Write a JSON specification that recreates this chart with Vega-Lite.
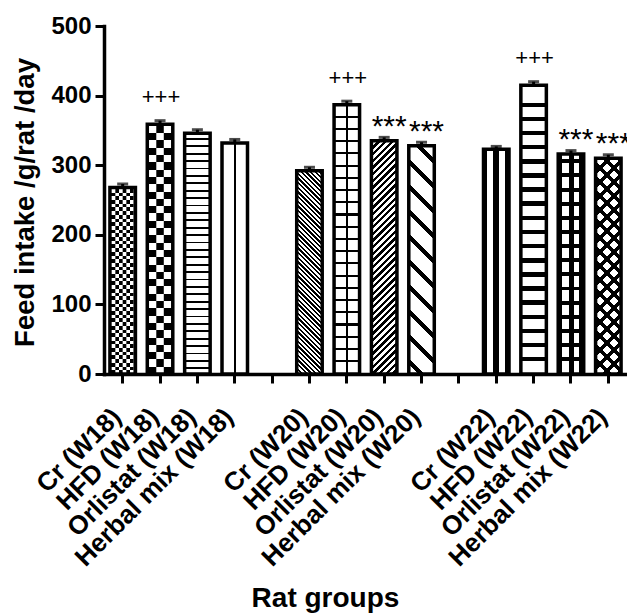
{
"$schema": "https://vega.github.io/schema/vega-lite/v6.json",
"width": 523,
"height": 348,
"autosize": {"type": "none"},
"padding": {"left": 104, "top": 26, "right": 0, "bottom": 241},
"background": "white",
"config": {"view": {"stroke": null}, "font": "Liberation Sans"},
"data": {"values": [
{"group": "Cr (W18)", "value": 268, "err": 5, "sig": ""},
{"group": "HFD (W18)", "value": 359, "err": 5, "sig": "+++"},
{"group": "Orlistat (W18)", "value": 346, "err": 5, "sig": ""},
{"group": "Herbal mix (W18)", "value": 332, "err": 5, "sig": ""},
{"group": "Cr (W20)", "value": 292, "err": 5, "sig": ""},
{"group": "HFD (W20)", "value": 387, "err": 5, "sig": "+++"},
{"group": "Orlistat (W20)", "value": 335, "err": 5, "sig": "***"},
{"group": "Herbal mix (W20)", "value": 328, "err": 5, "sig": "***"},
{"group": "Cr (W22)", "value": 323, "err": 4, "sig": ""},
{"group": "HFD (W22)", "value": 415, "err": 5, "sig": "+++"},
{"group": "Orlistat (W22)", "value": 316, "err": 5, "sig": "***"},
{"group": "Herbal mix (W22)", "value": 310, "err": 5, "sig": "***"}
]},
"encoding": {
"x": {"field": "group", "type": "nominal", "sort": null,
 "scale": {"domain": ["Cr (W18)", "HFD (W18)", "Orlistat (W18)", "Herbal mix (W18)", " ", "Cr (W20)", "HFD (W20)", "Orlistat (W20)", "Herbal mix (W20)", "  ", "Cr (W22)", "HFD (W22)", "Orlistat (W22)", "Herbal mix (W22)"], "paddingInner": 0, "paddingOuter": 0},
 "axis": {"title": "Rat groups", "titleFont": "Liberation Sans", "titleFontSize": 28, "titleFontWeight": "bold", "titleColor": "#000", "titleX": 221, "titleY": 232, "titleAlign": "center", "titleBaseline": "alphabetic",
  "labelAngle": -45, "labelAlign": "right", "labelBaseline": "alphabetic", "labelFont": "Liberation Sans", "labelFontSize": 26, "labelFontWeight": "bold", "labelColor": "#000", "labelPadding": 35, "labelOverlap": false, "labelLimit": 500,
  "domainColor": "#000", "domainWidth": 3.5, "domainCap": "square", "tickColor": "#000", "tickWidth": 3, "tickSize": 9, "grid": false}},
"y": {"field": "value", "type": "quantitative",
 "scale": {"domain": [0, 500], "nice": false},
 "axis": {"values": [0, 100, 200, 300, 400, 500], "title": "Feed intake /g/rat /day", "titleFont": "Liberation Sans", "titleFontSize": 27.5, "titleFontWeight": "bold", "titleColor": "#000", "titleX": -71, "titleY": 176, "titleAlign": "center", "titleBaseline": "alphabetic", "titleAngle": 270,
  "labelFont": "Liberation Sans", "labelFontSize": 24, "labelFontWeight": "bold", "labelColor": "#000", "labelPadding": 4,
  "domainColor": "#000", "domainWidth": 3.5, "domainCap": "square", "tickColor": "#000", "tickWidth": 3, "tickSize": 9, "grid": false}}
},
"layer": [
{"mark": {"type": "errorbar", "ticks": true, "size": 11, "thickness": 3, "color": "#000"}, "encoding": {"yError": {"field": "err"}}},
{"transform": [{"filter": "datum.group === 'Cr (W18)'"}], "mark": {"type": "bar", "size": 25.5, "fill": {"gradient": "linear", "x1": 0, "y1": 1, "x2": 0, "y2": -0.984, "stops": [
{"offset":0,"color":"#000"},{"offset":0.01,"color":"#000"},{"offset":0.01,"color":"#fff"},{"offset":0.02,"color":"#fff"},
{"offset":0.02,"color":"#000"},{"offset":0.03,"color":"#000"},{"offset":0.03,"color":"#fff"},{"offset":0.04,"color":"#fff"},
{"offset":0.04,"color":"#000"},{"offset":0.05,"color":"#000"},{"offset":0.05,"color":"#fff"},{"offset":0.06,"color":"#fff"},
{"offset":0.06,"color":"#000"},{"offset":0.07,"color":"#000"},{"offset":0.07,"color":"#fff"},{"offset":0.08,"color":"#fff"},
{"offset":0.08,"color":"#000"},{"offset":0.09,"color":"#000"},{"offset":0.09,"color":"#fff"},{"offset":0.1,"color":"#fff"},
{"offset":0.1,"color":"#000"},{"offset":0.11,"color":"#000"},{"offset":0.11,"color":"#fff"},{"offset":0.12,"color":"#fff"},
{"offset":0.12,"color":"#000"},{"offset":0.13,"color":"#000"},{"offset":0.13,"color":"#fff"},{"offset":0.14,"color":"#fff"},
{"offset":0.14,"color":"#000"},{"offset":0.15,"color":"#000"},{"offset":0.15,"color":"#fff"},{"offset":0.16,"color":"#fff"},
{"offset":0.16,"color":"#000"},{"offset":0.17,"color":"#000"},{"offset":0.17,"color":"#fff"},{"offset":0.18,"color":"#fff"},
{"offset":0.18,"color":"#000"},{"offset":0.19,"color":"#000"},{"offset":0.19,"color":"#fff"},{"offset":0.2,"color":"#fff"},
{"offset":0.2,"color":"#000"},{"offset":0.21,"color":"#000"},{"offset":0.21,"color":"#fff"},{"offset":0.22,"color":"#fff"},
{"offset":0.22,"color":"#000"},{"offset":0.23,"color":"#000"},{"offset":0.23,"color":"#fff"},{"offset":0.24,"color":"#fff"},
{"offset":0.24,"color":"#000"},{"offset":0.25,"color":"#000"},{"offset":0.25,"color":"#fff"},{"offset":0.26,"color":"#fff"},
{"offset":0.26,"color":"#000"},{"offset":0.27,"color":"#000"},{"offset":0.27,"color":"#fff"},{"offset":0.28,"color":"#fff"},
{"offset":0.28,"color":"#000"},{"offset":0.29,"color":"#000"},{"offset":0.29,"color":"#fff"},{"offset":0.3,"color":"#fff"},
{"offset":0.3,"color":"#000"},{"offset":0.31,"color":"#000"},{"offset":0.31,"color":"#fff"},{"offset":0.32,"color":"#fff"},
{"offset":0.32,"color":"#000"},{"offset":0.33,"color":"#000"},{"offset":0.33,"color":"#fff"},{"offset":0.34,"color":"#fff"},
{"offset":0.34,"color":"#000"},{"offset":0.35,"color":"#000"},{"offset":0.35,"color":"#fff"},{"offset":0.36,"color":"#fff"},
{"offset":0.36,"color":"#000"},{"offset":0.37,"color":"#000"},{"offset":0.37,"color":"#fff"},{"offset":0.38,"color":"#fff"},
{"offset":0.38,"color":"#000"},{"offset":0.39,"color":"#000"},{"offset":0.39,"color":"#fff"},{"offset":0.4,"color":"#fff"},
{"offset":0.4,"color":"#000"},{"offset":0.41,"color":"#000"},{"offset":0.41,"color":"#fff"},{"offset":0.42,"color":"#fff"},
{"offset":0.42,"color":"#000"},{"offset":0.43,"color":"#000"},{"offset":0.43,"color":"#fff"},{"offset":0.44,"color":"#fff"},
{"offset":0.44,"color":"#000"},{"offset":0.45,"color":"#000"},{"offset":0.45,"color":"#fff"},{"offset":0.46,"color":"#fff"},
{"offset":0.46,"color":"#000"},{"offset":0.47,"color":"#000"},{"offset":0.47,"color":"#fff"},{"offset":0.48,"color":"#fff"},
{"offset":0.48,"color":"#000"},{"offset":0.49,"color":"#000"},{"offset":0.49,"color":"#fff"},{"offset":0.5,"color":"#fff"},
{"offset":0.5,"color":"#000"},{"offset":0.51,"color":"#000"},{"offset":0.51,"color":"#fff"},{"offset":0.52,"color":"#fff"},
{"offset":0.52,"color":"#000"},{"offset":0.53,"color":"#000"},{"offset":0.53,"color":"#fff"},{"offset":1,"color":"#fff"}]}}},
{"transform": [{"filter": "datum.group === 'Cr (W18)'"}], "mark": {"type": "bar", "size": 3.67, "xOffset": -5.5, "fill": {"gradient": "linear", "x1": 0, "y1": 1.0198, "x2": 0, "y2": -0.9642, "stops": [
{"offset":0,"color":"#000"},{"offset":0.01,"color":"#000"},{"offset":0.01,"color":"#fff"},{"offset":0.02,"color":"#fff"},
{"offset":0.02,"color":"#000"},{"offset":0.03,"color":"#000"},{"offset":0.03,"color":"#fff"},{"offset":0.04,"color":"#fff"},
{"offset":0.04,"color":"#000"},{"offset":0.05,"color":"#000"},{"offset":0.05,"color":"#fff"},{"offset":0.06,"color":"#fff"},
{"offset":0.06,"color":"#000"},{"offset":0.07,"color":"#000"},{"offset":0.07,"color":"#fff"},{"offset":0.08,"color":"#fff"},
{"offset":0.08,"color":"#000"},{"offset":0.09,"color":"#000"},{"offset":0.09,"color":"#fff"},{"offset":0.1,"color":"#fff"},
{"offset":0.1,"color":"#000"},{"offset":0.11,"color":"#000"},{"offset":0.11,"color":"#fff"},{"offset":0.12,"color":"#fff"},
{"offset":0.12,"color":"#000"},{"offset":0.13,"color":"#000"},{"offset":0.13,"color":"#fff"},{"offset":0.14,"color":"#fff"},
{"offset":0.14,"color":"#000"},{"offset":0.15,"color":"#000"},{"offset":0.15,"color":"#fff"},{"offset":0.16,"color":"#fff"},
{"offset":0.16,"color":"#000"},{"offset":0.17,"color":"#000"},{"offset":0.17,"color":"#fff"},{"offset":0.18,"color":"#fff"},
{"offset":0.18,"color":"#000"},{"offset":0.19,"color":"#000"},{"offset":0.19,"color":"#fff"},{"offset":0.2,"color":"#fff"},
{"offset":0.2,"color":"#000"},{"offset":0.21,"color":"#000"},{"offset":0.21,"color":"#fff"},{"offset":0.22,"color":"#fff"},
{"offset":0.22,"color":"#000"},{"offset":0.23,"color":"#000"},{"offset":0.23,"color":"#fff"},{"offset":0.24,"color":"#fff"},
{"offset":0.24,"color":"#000"},{"offset":0.25,"color":"#000"},{"offset":0.25,"color":"#fff"},{"offset":0.26,"color":"#fff"},
{"offset":0.26,"color":"#000"},{"offset":0.27,"color":"#000"},{"offset":0.27,"color":"#fff"},{"offset":0.28,"color":"#fff"},
{"offset":0.28,"color":"#000"},{"offset":0.29,"color":"#000"},{"offset":0.29,"color":"#fff"},{"offset":0.3,"color":"#fff"},
{"offset":0.3,"color":"#000"},{"offset":0.31,"color":"#000"},{"offset":0.31,"color":"#fff"},{"offset":0.32,"color":"#fff"},
{"offset":0.32,"color":"#000"},{"offset":0.33,"color":"#000"},{"offset":0.33,"color":"#fff"},{"offset":0.34,"color":"#fff"},
{"offset":0.34,"color":"#000"},{"offset":0.35,"color":"#000"},{"offset":0.35,"color":"#fff"},{"offset":0.36,"color":"#fff"},
{"offset":0.36,"color":"#000"},{"offset":0.37,"color":"#000"},{"offset":0.37,"color":"#fff"},{"offset":0.38,"color":"#fff"},
{"offset":0.38,"color":"#000"},{"offset":0.39,"color":"#000"},{"offset":0.39,"color":"#fff"},{"offset":0.4,"color":"#fff"},
{"offset":0.4,"color":"#000"},{"offset":0.41,"color":"#000"},{"offset":0.41,"color":"#fff"},{"offset":0.42,"color":"#fff"},
{"offset":0.42,"color":"#000"},{"offset":0.43,"color":"#000"},{"offset":0.43,"color":"#fff"},{"offset":0.44,"color":"#fff"},
{"offset":0.44,"color":"#000"},{"offset":0.45,"color":"#000"},{"offset":0.45,"color":"#fff"},{"offset":0.46,"color":"#fff"},
{"offset":0.46,"color":"#000"},{"offset":0.47,"color":"#000"},{"offset":0.47,"color":"#fff"},{"offset":0.48,"color":"#fff"},
{"offset":0.48,"color":"#000"},{"offset":0.49,"color":"#000"},{"offset":0.49,"color":"#fff"},{"offset":0.5,"color":"#fff"},
{"offset":0.5,"color":"#000"},{"offset":0.51,"color":"#000"},{"offset":0.51,"color":"#fff"},{"offset":0.52,"color":"#fff"},
{"offset":0.52,"color":"#000"},{"offset":0.53,"color":"#000"},{"offset":0.53,"color":"#fff"},{"offset":1,"color":"#fff"}]}}},
{"transform": [{"filter": "datum.group === 'Cr (W18)'"}], "mark": {"type": "bar", "size": 3.67, "xOffset": 1.83, "fill": {"gradient": "linear", "x1": 0, "y1": 1.0198, "x2": 0, "y2": -0.9642, "stops": [
{"offset":0,"color":"#000"},{"offset":0.01,"color":"#000"},{"offset":0.01,"color":"#fff"},{"offset":0.02,"color":"#fff"},
{"offset":0.02,"color":"#000"},{"offset":0.03,"color":"#000"},{"offset":0.03,"color":"#fff"},{"offset":0.04,"color":"#fff"},
{"offset":0.04,"color":"#000"},{"offset":0.05,"color":"#000"},{"offset":0.05,"color":"#fff"},{"offset":0.06,"color":"#fff"},
{"offset":0.06,"color":"#000"},{"offset":0.07,"color":"#000"},{"offset":0.07,"color":"#fff"},{"offset":0.08,"color":"#fff"},
{"offset":0.08,"color":"#000"},{"offset":0.09,"color":"#000"},{"offset":0.09,"color":"#fff"},{"offset":0.1,"color":"#fff"},
{"offset":0.1,"color":"#000"},{"offset":0.11,"color":"#000"},{"offset":0.11,"color":"#fff"},{"offset":0.12,"color":"#fff"},
{"offset":0.12,"color":"#000"},{"offset":0.13,"color":"#000"},{"offset":0.13,"color":"#fff"},{"offset":0.14,"color":"#fff"},
{"offset":0.14,"color":"#000"},{"offset":0.15,"color":"#000"},{"offset":0.15,"color":"#fff"},{"offset":0.16,"color":"#fff"},
{"offset":0.16,"color":"#000"},{"offset":0.17,"color":"#000"},{"offset":0.17,"color":"#fff"},{"offset":0.18,"color":"#fff"},
{"offset":0.18,"color":"#000"},{"offset":0.19,"color":"#000"},{"offset":0.19,"color":"#fff"},{"offset":0.2,"color":"#fff"},
{"offset":0.2,"color":"#000"},{"offset":0.21,"color":"#000"},{"offset":0.21,"color":"#fff"},{"offset":0.22,"color":"#fff"},
{"offset":0.22,"color":"#000"},{"offset":0.23,"color":"#000"},{"offset":0.23,"color":"#fff"},{"offset":0.24,"color":"#fff"},
{"offset":0.24,"color":"#000"},{"offset":0.25,"color":"#000"},{"offset":0.25,"color":"#fff"},{"offset":0.26,"color":"#fff"},
{"offset":0.26,"color":"#000"},{"offset":0.27,"color":"#000"},{"offset":0.27,"color":"#fff"},{"offset":0.28,"color":"#fff"},
{"offset":0.28,"color":"#000"},{"offset":0.29,"color":"#000"},{"offset":0.29,"color":"#fff"},{"offset":0.3,"color":"#fff"},
{"offset":0.3,"color":"#000"},{"offset":0.31,"color":"#000"},{"offset":0.31,"color":"#fff"},{"offset":0.32,"color":"#fff"},
{"offset":0.32,"color":"#000"},{"offset":0.33,"color":"#000"},{"offset":0.33,"color":"#fff"},{"offset":0.34,"color":"#fff"},
{"offset":0.34,"color":"#000"},{"offset":0.35,"color":"#000"},{"offset":0.35,"color":"#fff"},{"offset":0.36,"color":"#fff"},
{"offset":0.36,"color":"#000"},{"offset":0.37,"color":"#000"},{"offset":0.37,"color":"#fff"},{"offset":0.38,"color":"#fff"},
{"offset":0.38,"color":"#000"},{"offset":0.39,"color":"#000"},{"offset":0.39,"color":"#fff"},{"offset":0.4,"color":"#fff"},
{"offset":0.4,"color":"#000"},{"offset":0.41,"color":"#000"},{"offset":0.41,"color":"#fff"},{"offset":0.42,"color":"#fff"},
{"offset":0.42,"color":"#000"},{"offset":0.43,"color":"#000"},{"offset":0.43,"color":"#fff"},{"offset":0.44,"color":"#fff"},
{"offset":0.44,"color":"#000"},{"offset":0.45,"color":"#000"},{"offset":0.45,"color":"#fff"},{"offset":0.46,"color":"#fff"},
{"offset":0.46,"color":"#000"},{"offset":0.47,"color":"#000"},{"offset":0.47,"color":"#fff"},{"offset":0.48,"color":"#fff"},
{"offset":0.48,"color":"#000"},{"offset":0.49,"color":"#000"},{"offset":0.49,"color":"#fff"},{"offset":0.5,"color":"#fff"},
{"offset":0.5,"color":"#000"},{"offset":0.51,"color":"#000"},{"offset":0.51,"color":"#fff"},{"offset":0.52,"color":"#fff"},
{"offset":0.52,"color":"#000"},{"offset":0.53,"color":"#000"},{"offset":0.53,"color":"#fff"},{"offset":1,"color":"#fff"}]}}},
{"transform": [{"filter": "datum.group === 'Cr (W18)'"}], "mark": {"type": "bar", "size": 3.67, "xOffset": 9.17, "fill": {"gradient": "linear", "x1": 0, "y1": 1.0198, "x2": 0, "y2": -0.9642, "stops": [
{"offset":0,"color":"#000"},{"offset":0.01,"color":"#000"},{"offset":0.01,"color":"#fff"},{"offset":0.02,"color":"#fff"},
{"offset":0.02,"color":"#000"},{"offset":0.03,"color":"#000"},{"offset":0.03,"color":"#fff"},{"offset":0.04,"color":"#fff"},
{"offset":0.04,"color":"#000"},{"offset":0.05,"color":"#000"},{"offset":0.05,"color":"#fff"},{"offset":0.06,"color":"#fff"},
{"offset":0.06,"color":"#000"},{"offset":0.07,"color":"#000"},{"offset":0.07,"color":"#fff"},{"offset":0.08,"color":"#fff"},
{"offset":0.08,"color":"#000"},{"offset":0.09,"color":"#000"},{"offset":0.09,"color":"#fff"},{"offset":0.1,"color":"#fff"},
{"offset":0.1,"color":"#000"},{"offset":0.11,"color":"#000"},{"offset":0.11,"color":"#fff"},{"offset":0.12,"color":"#fff"},
{"offset":0.12,"color":"#000"},{"offset":0.13,"color":"#000"},{"offset":0.13,"color":"#fff"},{"offset":0.14,"color":"#fff"},
{"offset":0.14,"color":"#000"},{"offset":0.15,"color":"#000"},{"offset":0.15,"color":"#fff"},{"offset":0.16,"color":"#fff"},
{"offset":0.16,"color":"#000"},{"offset":0.17,"color":"#000"},{"offset":0.17,"color":"#fff"},{"offset":0.18,"color":"#fff"},
{"offset":0.18,"color":"#000"},{"offset":0.19,"color":"#000"},{"offset":0.19,"color":"#fff"},{"offset":0.2,"color":"#fff"},
{"offset":0.2,"color":"#000"},{"offset":0.21,"color":"#000"},{"offset":0.21,"color":"#fff"},{"offset":0.22,"color":"#fff"},
{"offset":0.22,"color":"#000"},{"offset":0.23,"color":"#000"},{"offset":0.23,"color":"#fff"},{"offset":0.24,"color":"#fff"},
{"offset":0.24,"color":"#000"},{"offset":0.25,"color":"#000"},{"offset":0.25,"color":"#fff"},{"offset":0.26,"color":"#fff"},
{"offset":0.26,"color":"#000"},{"offset":0.27,"color":"#000"},{"offset":0.27,"color":"#fff"},{"offset":0.28,"color":"#fff"},
{"offset":0.28,"color":"#000"},{"offset":0.29,"color":"#000"},{"offset":0.29,"color":"#fff"},{"offset":0.3,"color":"#fff"},
{"offset":0.3,"color":"#000"},{"offset":0.31,"color":"#000"},{"offset":0.31,"color":"#fff"},{"offset":0.32,"color":"#fff"},
{"offset":0.32,"color":"#000"},{"offset":0.33,"color":"#000"},{"offset":0.33,"color":"#fff"},{"offset":0.34,"color":"#fff"},
{"offset":0.34,"color":"#000"},{"offset":0.35,"color":"#000"},{"offset":0.35,"color":"#fff"},{"offset":0.36,"color":"#fff"},
{"offset":0.36,"color":"#000"},{"offset":0.37,"color":"#000"},{"offset":0.37,"color":"#fff"},{"offset":0.38,"color":"#fff"},
{"offset":0.38,"color":"#000"},{"offset":0.39,"color":"#000"},{"offset":0.39,"color":"#fff"},{"offset":0.4,"color":"#fff"},
{"offset":0.4,"color":"#000"},{"offset":0.41,"color":"#000"},{"offset":0.41,"color":"#fff"},{"offset":0.42,"color":"#fff"},
{"offset":0.42,"color":"#000"},{"offset":0.43,"color":"#000"},{"offset":0.43,"color":"#fff"},{"offset":0.44,"color":"#fff"},
{"offset":0.44,"color":"#000"},{"offset":0.45,"color":"#000"},{"offset":0.45,"color":"#fff"},{"offset":0.46,"color":"#fff"},
{"offset":0.46,"color":"#000"},{"offset":0.47,"color":"#000"},{"offset":0.47,"color":"#fff"},{"offset":0.48,"color":"#fff"},
{"offset":0.48,"color":"#000"},{"offset":0.49,"color":"#000"},{"offset":0.49,"color":"#fff"},{"offset":0.5,"color":"#fff"},
{"offset":0.5,"color":"#000"},{"offset":0.51,"color":"#000"},{"offset":0.51,"color":"#fff"},{"offset":0.52,"color":"#fff"},
{"offset":0.52,"color":"#000"},{"offset":0.53,"color":"#000"},{"offset":0.53,"color":"#fff"},{"offset":1,"color":"#fff"}]}}},
{"transform": [{"filter": "datum.group === 'HFD (W18)'"}], "mark": {"type": "bar", "size": 25.5, "fill": {"gradient": "linear", "x1": 0, "y1": 1, "x2": 0, "y2": -0.1685, "stops": [
{"offset":0,"color":"#000"},{"offset":0.025,"color":"#000"},{"offset":0.025,"color":"#fff"},{"offset":0.05,"color":"#fff"},
{"offset":0.05,"color":"#000"},{"offset":0.075,"color":"#000"},{"offset":0.075,"color":"#fff"},{"offset":0.1,"color":"#fff"},
{"offset":0.1,"color":"#000"},{"offset":0.125,"color":"#000"},{"offset":0.125,"color":"#fff"},{"offset":0.15,"color":"#fff"},
{"offset":0.15,"color":"#000"},{"offset":0.175,"color":"#000"},{"offset":0.175,"color":"#fff"},{"offset":0.2,"color":"#fff"},
{"offset":0.2,"color":"#000"},{"offset":0.225,"color":"#000"},{"offset":0.225,"color":"#fff"},{"offset":0.25,"color":"#fff"},
{"offset":0.25,"color":"#000"},{"offset":0.275,"color":"#000"},{"offset":0.275,"color":"#fff"},{"offset":0.3,"color":"#fff"},
{"offset":0.3,"color":"#000"},{"offset":0.325,"color":"#000"},{"offset":0.325,"color":"#fff"},{"offset":0.35,"color":"#fff"},
{"offset":0.35,"color":"#000"},{"offset":0.375,"color":"#000"},{"offset":0.375,"color":"#fff"},{"offset":0.4,"color":"#fff"},
{"offset":0.4,"color":"#000"},{"offset":0.425,"color":"#000"},{"offset":0.425,"color":"#fff"},{"offset":0.45,"color":"#fff"},
{"offset":0.45,"color":"#000"},{"offset":0.475,"color":"#000"},{"offset":0.475,"color":"#fff"},{"offset":0.5,"color":"#fff"},
{"offset":0.5,"color":"#000"},{"offset":0.525,"color":"#000"},{"offset":0.525,"color":"#fff"},{"offset":0.55,"color":"#fff"},
{"offset":0.55,"color":"#000"},{"offset":0.575,"color":"#000"},{"offset":0.575,"color":"#fff"},{"offset":0.6,"color":"#fff"},
{"offset":0.6,"color":"#000"},{"offset":0.625,"color":"#000"},{"offset":0.625,"color":"#fff"},{"offset":0.65,"color":"#fff"},
{"offset":0.65,"color":"#000"},{"offset":0.675,"color":"#000"},{"offset":0.675,"color":"#fff"},{"offset":0.7,"color":"#fff"},
{"offset":0.7,"color":"#000"},{"offset":0.725,"color":"#000"},{"offset":0.725,"color":"#fff"},{"offset":0.75,"color":"#fff"},
{"offset":0.75,"color":"#000"},{"offset":0.775,"color":"#000"},{"offset":0.775,"color":"#fff"},{"offset":0.8,"color":"#fff"},
{"offset":0.8,"color":"#000"},{"offset":0.825,"color":"#000"},{"offset":0.825,"color":"#fff"},{"offset":0.85,"color":"#fff"},
{"offset":0.85,"color":"#000"},{"offset":0.875,"color":"#000"},{"offset":0.875,"color":"#fff"},{"offset":1,"color":"#fff"}]}}},
{"transform": [{"filter": "datum.group === 'HFD (W18)'"}], "mark": {"type": "bar", "size": 7.5, "fill": {"gradient": "linear", "x1": 0, "y1": 1, "x2": 0, "y2": -0.1685, "stops": [
{"offset":0,"color":"#fff"},{"offset":0.025,"color":"#fff"},{"offset":0.025,"color":"#000"},{"offset":0.05,"color":"#000"},
{"offset":0.05,"color":"#fff"},{"offset":0.075,"color":"#fff"},{"offset":0.075,"color":"#000"},{"offset":0.1,"color":"#000"},
{"offset":0.1,"color":"#fff"},{"offset":0.125,"color":"#fff"},{"offset":0.125,"color":"#000"},{"offset":0.15,"color":"#000"},
{"offset":0.15,"color":"#fff"},{"offset":0.175,"color":"#fff"},{"offset":0.175,"color":"#000"},{"offset":0.2,"color":"#000"},
{"offset":0.2,"color":"#fff"},{"offset":0.225,"color":"#fff"},{"offset":0.225,"color":"#000"},{"offset":0.25,"color":"#000"},
{"offset":0.25,"color":"#fff"},{"offset":0.275,"color":"#fff"},{"offset":0.275,"color":"#000"},{"offset":0.3,"color":"#000"},
{"offset":0.3,"color":"#fff"},{"offset":0.325,"color":"#fff"},{"offset":0.325,"color":"#000"},{"offset":0.35,"color":"#000"},
{"offset":0.35,"color":"#fff"},{"offset":0.375,"color":"#fff"},{"offset":0.375,"color":"#000"},{"offset":0.4,"color":"#000"},
{"offset":0.4,"color":"#fff"},{"offset":0.425,"color":"#fff"},{"offset":0.425,"color":"#000"},{"offset":0.45,"color":"#000"},
{"offset":0.45,"color":"#fff"},{"offset":0.475,"color":"#fff"},{"offset":0.475,"color":"#000"},{"offset":0.5,"color":"#000"},
{"offset":0.5,"color":"#fff"},{"offset":0.525,"color":"#fff"},{"offset":0.525,"color":"#000"},{"offset":0.55,"color":"#000"},
{"offset":0.55,"color":"#fff"},{"offset":0.575,"color":"#fff"},{"offset":0.575,"color":"#000"},{"offset":0.6,"color":"#000"},
{"offset":0.6,"color":"#fff"},{"offset":0.625,"color":"#fff"},{"offset":0.625,"color":"#000"},{"offset":0.65,"color":"#000"},
{"offset":0.65,"color":"#fff"},{"offset":0.675,"color":"#fff"},{"offset":0.675,"color":"#000"},{"offset":0.7,"color":"#000"},
{"offset":0.7,"color":"#fff"},{"offset":0.725,"color":"#fff"},{"offset":0.725,"color":"#000"},{"offset":0.75,"color":"#000"},
{"offset":0.75,"color":"#fff"},{"offset":0.775,"color":"#fff"},{"offset":0.775,"color":"#000"},{"offset":0.8,"color":"#000"},
{"offset":0.8,"color":"#fff"},{"offset":0.825,"color":"#fff"},{"offset":0.825,"color":"#000"},{"offset":0.85,"color":"#000"},
{"offset":0.85,"color":"#fff"},{"offset":0.875,"color":"#fff"},{"offset":0.875,"color":"#000"},{"offset":1,"color":"#000"}]}}},
{"transform": [{"filter": "datum.group === 'Orlistat (W18)'"}], "mark": {"type": "bar", "size": 25.5, "fill": {"gradient": "linear", "x1": 0, "y1": 1.007, "x2": 0, "y2": -0.0174, "stops": [
{"offset":0,"color":"#fff"},
{"offset":0.0265,"color":"#fff"},{"offset":0.0265,"color":"#000"},{"offset":0.0335,"color":"#000"},{"offset":0.0335,"color":"#fff"},
{"offset":0.0565,"color":"#fff"},{"offset":0.0565,"color":"#000"},{"offset":0.0635,"color":"#000"},{"offset":0.0635,"color":"#fff"},
{"offset":0.0865,"color":"#fff"},{"offset":0.0865,"color":"#000"},{"offset":0.0935,"color":"#000"},{"offset":0.0935,"color":"#fff"},
{"offset":0.1165,"color":"#fff"},{"offset":0.1165,"color":"#000"},{"offset":0.1235,"color":"#000"},{"offset":0.1235,"color":"#fff"},
{"offset":0.1465,"color":"#fff"},{"offset":0.1465,"color":"#000"},{"offset":0.1535,"color":"#000"},{"offset":0.1535,"color":"#fff"},
{"offset":0.1765,"color":"#fff"},{"offset":0.1765,"color":"#000"},{"offset":0.1835,"color":"#000"},{"offset":0.1835,"color":"#fff"},
{"offset":0.2065,"color":"#fff"},{"offset":0.2065,"color":"#000"},{"offset":0.2135,"color":"#000"},{"offset":0.2135,"color":"#fff"},
{"offset":0.2365,"color":"#fff"},{"offset":0.2365,"color":"#000"},{"offset":0.2435,"color":"#000"},{"offset":0.2435,"color":"#fff"},
{"offset":0.2665,"color":"#fff"},{"offset":0.2665,"color":"#000"},{"offset":0.2735,"color":"#000"},{"offset":0.2735,"color":"#fff"},
{"offset":0.2965,"color":"#fff"},{"offset":0.2965,"color":"#000"},{"offset":0.3035,"color":"#000"},{"offset":0.3035,"color":"#fff"},
{"offset":0.3265,"color":"#fff"},{"offset":0.3265,"color":"#000"},{"offset":0.3335,"color":"#000"},{"offset":0.3335,"color":"#fff"},
{"offset":0.3565,"color":"#fff"},{"offset":0.3565,"color":"#000"},{"offset":0.3635,"color":"#000"},{"offset":0.3635,"color":"#fff"},
{"offset":0.3865,"color":"#fff"},{"offset":0.3865,"color":"#000"},{"offset":0.3935,"color":"#000"},{"offset":0.3935,"color":"#fff"},
{"offset":0.4165,"color":"#fff"},{"offset":0.4165,"color":"#000"},{"offset":0.4235,"color":"#000"},{"offset":0.4235,"color":"#fff"},
{"offset":0.4465,"color":"#fff"},{"offset":0.4465,"color":"#000"},{"offset":0.4535,"color":"#000"},{"offset":0.4535,"color":"#fff"},
{"offset":0.4765,"color":"#fff"},{"offset":0.4765,"color":"#000"},{"offset":0.4835,"color":"#000"},{"offset":0.4835,"color":"#fff"},
{"offset":0.5065,"color":"#fff"},{"offset":0.5065,"color":"#000"},{"offset":0.5135,"color":"#000"},{"offset":0.5135,"color":"#fff"},
{"offset":0.5365,"color":"#fff"},{"offset":0.5365,"color":"#000"},{"offset":0.5435,"color":"#000"},{"offset":0.5435,"color":"#fff"},
{"offset":0.5665,"color":"#fff"},{"offset":0.5665,"color":"#000"},{"offset":0.5735,"color":"#000"},{"offset":0.5735,"color":"#fff"},
{"offset":0.5965,"color":"#fff"},{"offset":0.5965,"color":"#000"},{"offset":0.6035,"color":"#000"},{"offset":0.6035,"color":"#fff"},
{"offset":0.6265,"color":"#fff"},{"offset":0.6265,"color":"#000"},{"offset":0.6335,"color":"#000"},{"offset":0.6335,"color":"#fff"},
{"offset":0.6565,"color":"#fff"},{"offset":0.6565,"color":"#000"},{"offset":0.6635,"color":"#000"},{"offset":0.6635,"color":"#fff"},
{"offset":0.6865,"color":"#fff"},{"offset":0.6865,"color":"#000"},{"offset":0.6935,"color":"#000"},{"offset":0.6935,"color":"#fff"},
{"offset":0.7165,"color":"#fff"},{"offset":0.7165,"color":"#000"},{"offset":0.7235,"color":"#000"},{"offset":0.7235,"color":"#fff"},
{"offset":0.7465,"color":"#fff"},{"offset":0.7465,"color":"#000"},{"offset":0.7535,"color":"#000"},{"offset":0.7535,"color":"#fff"},
{"offset":0.7765,"color":"#fff"},{"offset":0.7765,"color":"#000"},{"offset":0.7835,"color":"#000"},{"offset":0.7835,"color":"#fff"},
{"offset":0.8065,"color":"#fff"},{"offset":0.8065,"color":"#000"},{"offset":0.8135,"color":"#000"},{"offset":0.8135,"color":"#fff"},
{"offset":0.8365,"color":"#fff"},{"offset":0.8365,"color":"#000"},{"offset":0.8435,"color":"#000"},{"offset":0.8435,"color":"#fff"},
{"offset":0.8665,"color":"#fff"},{"offset":0.8665,"color":"#000"},{"offset":0.8735,"color":"#000"},{"offset":0.8735,"color":"#fff"},
{"offset":0.8965,"color":"#fff"},{"offset":0.8965,"color":"#000"},{"offset":0.9035,"color":"#000"},{"offset":0.9035,"color":"#fff"},
{"offset":0.9265,"color":"#fff"},{"offset":0.9265,"color":"#000"},{"offset":0.9335,"color":"#000"},{"offset":0.9335,"color":"#fff"},
{"offset":0.9565,"color":"#fff"},{"offset":0.9565,"color":"#000"},{"offset":0.9635,"color":"#000"},{"offset":0.9635,"color":"#fff"},
{"offset":1,"color":"#fff"}]}}},
{"transform": [{"filter": "datum.group === 'Herbal mix (W18)'"}], "mark": {"type": "bar", "size": 25.5, "fill": {"gradient": "linear", "x1": 0, "y1": 0, "x2": 1, "y2": 0, "stops": [
{"offset":0,"color":"#fff"},{"offset":0.453,"color":"#fff"},{"offset":0.453,"color":"#000"},{"offset":0.547,"color":"#000"},{"offset":0.547,"color":"#fff"},{"offset":1,"color":"#fff"}]}}},
{"transform": [{"filter": "datum.group === 'Cr (W20)'"}], "mark": {"type": "bar", "size": 25.5, "fill": {"gradient": "linear", "x1": 0, "y1": 1, "x2": 0.1419, "y2": -0.1308, "stops": [
{"offset":0,"color":"#000"},{"offset":0.01,"color":"#000"},{"offset":0.01,"color":"#fff"},{"offset":0.02,"color":"#fff"},
{"offset":0.02,"color":"#000"},{"offset":0.03,"color":"#000"},{"offset":0.03,"color":"#fff"},{"offset":0.04,"color":"#fff"},
{"offset":0.04,"color":"#000"},{"offset":0.05,"color":"#000"},{"offset":0.05,"color":"#fff"},{"offset":0.06,"color":"#fff"},
{"offset":0.06,"color":"#000"},{"offset":0.07,"color":"#000"},{"offset":0.07,"color":"#fff"},{"offset":0.08,"color":"#fff"},
{"offset":0.08,"color":"#000"},{"offset":0.09,"color":"#000"},{"offset":0.09,"color":"#fff"},{"offset":0.1,"color":"#fff"},
{"offset":0.1,"color":"#000"},{"offset":0.11,"color":"#000"},{"offset":0.11,"color":"#fff"},{"offset":0.12,"color":"#fff"},
{"offset":0.12,"color":"#000"},{"offset":0.13,"color":"#000"},{"offset":0.13,"color":"#fff"},{"offset":0.14,"color":"#fff"},
{"offset":0.14,"color":"#000"},{"offset":0.15,"color":"#000"},{"offset":0.15,"color":"#fff"},{"offset":0.16,"color":"#fff"},
{"offset":0.16,"color":"#000"},{"offset":0.17,"color":"#000"},{"offset":0.17,"color":"#fff"},{"offset":0.18,"color":"#fff"},
{"offset":0.18,"color":"#000"},{"offset":0.19,"color":"#000"},{"offset":0.19,"color":"#fff"},{"offset":0.2,"color":"#fff"},
{"offset":0.2,"color":"#000"},{"offset":0.21,"color":"#000"},{"offset":0.21,"color":"#fff"},{"offset":0.22,"color":"#fff"},
{"offset":0.22,"color":"#000"},{"offset":0.23,"color":"#000"},{"offset":0.23,"color":"#fff"},{"offset":0.24,"color":"#fff"},
{"offset":0.24,"color":"#000"},{"offset":0.25,"color":"#000"},{"offset":0.25,"color":"#fff"},{"offset":0.26,"color":"#fff"},
{"offset":0.26,"color":"#000"},{"offset":0.27,"color":"#000"},{"offset":0.27,"color":"#fff"},{"offset":0.28,"color":"#fff"},
{"offset":0.28,"color":"#000"},{"offset":0.29,"color":"#000"},{"offset":0.29,"color":"#fff"},{"offset":0.3,"color":"#fff"},
{"offset":0.3,"color":"#000"},{"offset":0.31,"color":"#000"},{"offset":0.31,"color":"#fff"},{"offset":0.32,"color":"#fff"},
{"offset":0.32,"color":"#000"},{"offset":0.33,"color":"#000"},{"offset":0.33,"color":"#fff"},{"offset":0.34,"color":"#fff"},
{"offset":0.34,"color":"#000"},{"offset":0.35,"color":"#000"},{"offset":0.35,"color":"#fff"},{"offset":0.36,"color":"#fff"},
{"offset":0.36,"color":"#000"},{"offset":0.37,"color":"#000"},{"offset":0.37,"color":"#fff"},{"offset":0.38,"color":"#fff"},
{"offset":0.38,"color":"#000"},{"offset":0.39,"color":"#000"},{"offset":0.39,"color":"#fff"},{"offset":0.4,"color":"#fff"},
{"offset":0.4,"color":"#000"},{"offset":0.41,"color":"#000"},{"offset":0.41,"color":"#fff"},{"offset":0.42,"color":"#fff"},
{"offset":0.42,"color":"#000"},{"offset":0.43,"color":"#000"},{"offset":0.43,"color":"#fff"},{"offset":0.44,"color":"#fff"},
{"offset":0.44,"color":"#000"},{"offset":0.45,"color":"#000"},{"offset":0.45,"color":"#fff"},{"offset":0.46,"color":"#fff"},
{"offset":0.46,"color":"#000"},{"offset":0.47,"color":"#000"},{"offset":0.47,"color":"#fff"},{"offset":0.48,"color":"#fff"},
{"offset":0.48,"color":"#000"},{"offset":0.49,"color":"#000"},{"offset":0.49,"color":"#fff"},{"offset":0.5,"color":"#fff"},
{"offset":0.5,"color":"#000"},{"offset":0.51,"color":"#000"},{"offset":0.51,"color":"#fff"},{"offset":0.52,"color":"#fff"},
{"offset":0.52,"color":"#000"},{"offset":0.53,"color":"#000"},{"offset":0.53,"color":"#fff"},{"offset":0.54,"color":"#fff"},
{"offset":0.54,"color":"#000"},{"offset":0.55,"color":"#000"},{"offset":0.55,"color":"#fff"},{"offset":0.56,"color":"#fff"},
{"offset":0.56,"color":"#000"},{"offset":0.57,"color":"#000"},{"offset":0.57,"color":"#fff"},{"offset":0.58,"color":"#fff"},
{"offset":0.58,"color":"#000"},{"offset":0.59,"color":"#000"},{"offset":0.59,"color":"#fff"},{"offset":0.6,"color":"#fff"},
{"offset":0.6,"color":"#000"},{"offset":0.61,"color":"#000"},{"offset":0.61,"color":"#fff"},{"offset":0.62,"color":"#fff"},
{"offset":0.62,"color":"#000"},{"offset":0.63,"color":"#000"},{"offset":0.63,"color":"#fff"},{"offset":0.64,"color":"#fff"},
{"offset":0.64,"color":"#000"},{"offset":0.65,"color":"#000"},{"offset":0.65,"color":"#fff"},{"offset":0.66,"color":"#fff"},
{"offset":0.66,"color":"#000"},{"offset":0.67,"color":"#000"},{"offset":0.67,"color":"#fff"},{"offset":0.68,"color":"#fff"},
{"offset":0.68,"color":"#000"},{"offset":0.69,"color":"#000"},{"offset":0.69,"color":"#fff"},{"offset":0.7,"color":"#fff"},
{"offset":0.7,"color":"#000"},{"offset":0.71,"color":"#000"},{"offset":0.71,"color":"#fff"},{"offset":0.72,"color":"#fff"},
{"offset":0.72,"color":"#000"},{"offset":0.73,"color":"#000"},{"offset":0.73,"color":"#fff"},{"offset":0.74,"color":"#fff"},
{"offset":0.74,"color":"#000"},{"offset":0.75,"color":"#000"},{"offset":0.75,"color":"#fff"},{"offset":0.76,"color":"#fff"},
{"offset":0.76,"color":"#000"},{"offset":0.77,"color":"#000"},{"offset":0.77,"color":"#fff"},{"offset":0.78,"color":"#fff"},
{"offset":0.78,"color":"#000"},{"offset":0.79,"color":"#000"},{"offset":0.79,"color":"#fff"},{"offset":0.8,"color":"#fff"},
{"offset":0.8,"color":"#000"},{"offset":0.81,"color":"#000"},{"offset":0.81,"color":"#fff"},{"offset":0.82,"color":"#fff"},
{"offset":0.82,"color":"#000"},{"offset":0.83,"color":"#000"},{"offset":0.83,"color":"#fff"},{"offset":0.84,"color":"#fff"},
{"offset":0.84,"color":"#000"},{"offset":0.85,"color":"#000"},{"offset":0.85,"color":"#fff"},{"offset":0.86,"color":"#fff"},
{"offset":0.86,"color":"#000"},{"offset":0.87,"color":"#000"},{"offset":0.87,"color":"#fff"},{"offset":0.88,"color":"#fff"},
{"offset":0.88,"color":"#000"},{"offset":0.89,"color":"#000"},{"offset":0.89,"color":"#fff"},{"offset":0.9,"color":"#fff"},
{"offset":0.9,"color":"#000"},{"offset":0.91,"color":"#000"},{"offset":0.91,"color":"#fff"},{"offset":0.92,"color":"#fff"},
{"offset":0.92,"color":"#000"},{"offset":0.93,"color":"#000"},{"offset":0.93,"color":"#fff"},{"offset":0.94,"color":"#fff"},
{"offset":0.94,"color":"#000"},{"offset":0.95,"color":"#000"},{"offset":0.95,"color":"#fff"},{"offset":0.96,"color":"#fff"},
{"offset":0.96,"color":"#000"},{"offset":0.97,"color":"#000"},{"offset":0.97,"color":"#fff"},{"offset":0.98,"color":"#fff"},
{"offset":0.98,"color":"#000"},{"offset":0.99,"color":"#000"},{"offset":0.99,"color":"#fff"},{"offset":1,"color":"#fff"}]}}},
{"transform": [{"filter": "datum.group === 'HFD (W20)'"}], "mark": {"type": "bar", "size": 25.5, "fill": {"gradient": "linear", "x1": 0, "y1": 0, "x2": 1, "y2": 0, "stops": [
{"offset":0,"color":"#fff"},{"offset":0.46,"color":"#fff"},{"offset":0.46,"color":"#000"},{"offset":0.54,"color":"#000"},{"offset":0.54,"color":"#fff"},{"offset":1,"color":"#fff"}]}}},
{"transform": [{"filter": "datum.group === 'HFD (W20)'"}], "mark": {"type": "bar", "size": 25.5, "fill": {"gradient": "linear", "x1": 0, "y1": 0.998, "x2": 0, "y2": -0.137, "stops": [
{"offset":0,"color":"rgba(0,0,0,0)"},
{"offset":0.0365,"color":"rgba(0,0,0,0)"},{"offset":0.0365,"color":"#000"},{"offset":0.0435,"color":"#000"},{"offset":0.0435,"color":"rgba(0,0,0,0)"},
{"offset":0.0765,"color":"rgba(0,0,0,0)"},{"offset":0.0765,"color":"#000"},{"offset":0.0835,"color":"#000"},{"offset":0.0835,"color":"rgba(0,0,0,0)"},
{"offset":0.1165,"color":"rgba(0,0,0,0)"},{"offset":0.1165,"color":"#000"},{"offset":0.1235,"color":"#000"},{"offset":0.1235,"color":"rgba(0,0,0,0)"},
{"offset":0.1565,"color":"rgba(0,0,0,0)"},{"offset":0.1565,"color":"#000"},{"offset":0.1635,"color":"#000"},{"offset":0.1635,"color":"rgba(0,0,0,0)"},
{"offset":0.1965,"color":"rgba(0,0,0,0)"},{"offset":0.1965,"color":"#000"},{"offset":0.2035,"color":"#000"},{"offset":0.2035,"color":"rgba(0,0,0,0)"},
{"offset":0.2365,"color":"rgba(0,0,0,0)"},{"offset":0.2365,"color":"#000"},{"offset":0.2435,"color":"#000"},{"offset":0.2435,"color":"rgba(0,0,0,0)"},
{"offset":0.2765,"color":"rgba(0,0,0,0)"},{"offset":0.2765,"color":"#000"},{"offset":0.2835,"color":"#000"},{"offset":0.2835,"color":"rgba(0,0,0,0)"},
{"offset":0.3165,"color":"rgba(0,0,0,0)"},{"offset":0.3165,"color":"#000"},{"offset":0.3235,"color":"#000"},{"offset":0.3235,"color":"rgba(0,0,0,0)"},
{"offset":0.3565,"color":"rgba(0,0,0,0)"},{"offset":0.3565,"color":"#000"},{"offset":0.3635,"color":"#000"},{"offset":0.3635,"color":"rgba(0,0,0,0)"},
{"offset":0.3965,"color":"rgba(0,0,0,0)"},{"offset":0.3965,"color":"#000"},{"offset":0.4035,"color":"#000"},{"offset":0.4035,"color":"rgba(0,0,0,0)"},
{"offset":0.4365,"color":"rgba(0,0,0,0)"},{"offset":0.4365,"color":"#000"},{"offset":0.4435,"color":"#000"},{"offset":0.4435,"color":"rgba(0,0,0,0)"},
{"offset":0.4765,"color":"rgba(0,0,0,0)"},{"offset":0.4765,"color":"#000"},{"offset":0.4835,"color":"#000"},{"offset":0.4835,"color":"rgba(0,0,0,0)"},
{"offset":0.5165,"color":"rgba(0,0,0,0)"},{"offset":0.5165,"color":"#000"},{"offset":0.5235,"color":"#000"},{"offset":0.5235,"color":"rgba(0,0,0,0)"},
{"offset":0.5565,"color":"rgba(0,0,0,0)"},{"offset":0.5565,"color":"#000"},{"offset":0.5635,"color":"#000"},{"offset":0.5635,"color":"rgba(0,0,0,0)"},
{"offset":0.5965,"color":"rgba(0,0,0,0)"},{"offset":0.5965,"color":"#000"},{"offset":0.6035,"color":"#000"},{"offset":0.6035,"color":"rgba(0,0,0,0)"},
{"offset":0.6365,"color":"rgba(0,0,0,0)"},{"offset":0.6365,"color":"#000"},{"offset":0.6435,"color":"#000"},{"offset":0.6435,"color":"rgba(0,0,0,0)"},
{"offset":0.6765,"color":"rgba(0,0,0,0)"},{"offset":0.6765,"color":"#000"},{"offset":0.6835,"color":"#000"},{"offset":0.6835,"color":"rgba(0,0,0,0)"},
{"offset":0.7165,"color":"rgba(0,0,0,0)"},{"offset":0.7165,"color":"#000"},{"offset":0.7235,"color":"#000"},{"offset":0.7235,"color":"rgba(0,0,0,0)"},
{"offset":0.7565,"color":"rgba(0,0,0,0)"},{"offset":0.7565,"color":"#000"},{"offset":0.7635,"color":"#000"},{"offset":0.7635,"color":"rgba(0,0,0,0)"},
{"offset":0.7965,"color":"rgba(0,0,0,0)"},{"offset":0.7965,"color":"#000"},{"offset":0.8035,"color":"#000"},{"offset":0.8035,"color":"rgba(0,0,0,0)"},
{"offset":0.8365,"color":"rgba(0,0,0,0)"},{"offset":0.8365,"color":"#000"},{"offset":0.8435,"color":"#000"},{"offset":0.8435,"color":"rgba(0,0,0,0)"},
{"offset":1,"color":"rgba(0,0,0,0)"}]}}},
{"transform": [{"filter": "datum.group === 'Orlistat (W20)'"}], "mark": {"type": "bar", "size": 25.5, "fill": {"gradient": "linear", "x1": 0, "y1": 0, "x2": 0.154, "y2": 1.4083, "stops": [
{"offset":0,"color":"#000"},{"offset":0.01,"color":"#000"},{"offset":0.01,"color":"#fff"},{"offset":0.02,"color":"#fff"},
{"offset":0.02,"color":"#000"},{"offset":0.03,"color":"#000"},{"offset":0.03,"color":"#fff"},{"offset":0.04,"color":"#fff"},
{"offset":0.04,"color":"#000"},{"offset":0.05,"color":"#000"},{"offset":0.05,"color":"#fff"},{"offset":0.06,"color":"#fff"},
{"offset":0.06,"color":"#000"},{"offset":0.07,"color":"#000"},{"offset":0.07,"color":"#fff"},{"offset":0.08,"color":"#fff"},
{"offset":0.08,"color":"#000"},{"offset":0.09,"color":"#000"},{"offset":0.09,"color":"#fff"},{"offset":0.1,"color":"#fff"},
{"offset":0.1,"color":"#000"},{"offset":0.11,"color":"#000"},{"offset":0.11,"color":"#fff"},{"offset":0.12,"color":"#fff"},
{"offset":0.12,"color":"#000"},{"offset":0.13,"color":"#000"},{"offset":0.13,"color":"#fff"},{"offset":0.14,"color":"#fff"},
{"offset":0.14,"color":"#000"},{"offset":0.15,"color":"#000"},{"offset":0.15,"color":"#fff"},{"offset":0.16,"color":"#fff"},
{"offset":0.16,"color":"#000"},{"offset":0.17,"color":"#000"},{"offset":0.17,"color":"#fff"},{"offset":0.18,"color":"#fff"},
{"offset":0.18,"color":"#000"},{"offset":0.19,"color":"#000"},{"offset":0.19,"color":"#fff"},{"offset":0.2,"color":"#fff"},
{"offset":0.2,"color":"#000"},{"offset":0.21,"color":"#000"},{"offset":0.21,"color":"#fff"},{"offset":0.22,"color":"#fff"},
{"offset":0.22,"color":"#000"},{"offset":0.23,"color":"#000"},{"offset":0.23,"color":"#fff"},{"offset":0.24,"color":"#fff"},
{"offset":0.24,"color":"#000"},{"offset":0.25,"color":"#000"},{"offset":0.25,"color":"#fff"},{"offset":0.26,"color":"#fff"},
{"offset":0.26,"color":"#000"},{"offset":0.27,"color":"#000"},{"offset":0.27,"color":"#fff"},{"offset":0.28,"color":"#fff"},
{"offset":0.28,"color":"#000"},{"offset":0.29,"color":"#000"},{"offset":0.29,"color":"#fff"},{"offset":0.3,"color":"#fff"},
{"offset":0.3,"color":"#000"},{"offset":0.31,"color":"#000"},{"offset":0.31,"color":"#fff"},{"offset":0.32,"color":"#fff"},
{"offset":0.32,"color":"#000"},{"offset":0.33,"color":"#000"},{"offset":0.33,"color":"#fff"},{"offset":0.34,"color":"#fff"},
{"offset":0.34,"color":"#000"},{"offset":0.35,"color":"#000"},{"offset":0.35,"color":"#fff"},{"offset":0.36,"color":"#fff"},
{"offset":0.36,"color":"#000"},{"offset":0.37,"color":"#000"},{"offset":0.37,"color":"#fff"},{"offset":0.38,"color":"#fff"},
{"offset":0.38,"color":"#000"},{"offset":0.39,"color":"#000"},{"offset":0.39,"color":"#fff"},{"offset":0.4,"color":"#fff"},
{"offset":0.4,"color":"#000"},{"offset":0.41,"color":"#000"},{"offset":0.41,"color":"#fff"},{"offset":0.42,"color":"#fff"},
{"offset":0.42,"color":"#000"},{"offset":0.43,"color":"#000"},{"offset":0.43,"color":"#fff"},{"offset":0.44,"color":"#fff"},
{"offset":0.44,"color":"#000"},{"offset":0.45,"color":"#000"},{"offset":0.45,"color":"#fff"},{"offset":0.46,"color":"#fff"},
{"offset":0.46,"color":"#000"},{"offset":0.47,"color":"#000"},{"offset":0.47,"color":"#fff"},{"offset":0.48,"color":"#fff"},
{"offset":0.48,"color":"#000"},{"offset":0.49,"color":"#000"},{"offset":0.49,"color":"#fff"},{"offset":0.5,"color":"#fff"},
{"offset":0.5,"color":"#000"},{"offset":0.51,"color":"#000"},{"offset":0.51,"color":"#fff"},{"offset":0.52,"color":"#fff"},
{"offset":0.52,"color":"#000"},{"offset":0.53,"color":"#000"},{"offset":0.53,"color":"#fff"},{"offset":0.54,"color":"#fff"},
{"offset":0.54,"color":"#000"},{"offset":0.55,"color":"#000"},{"offset":0.55,"color":"#fff"},{"offset":0.56,"color":"#fff"},
{"offset":0.56,"color":"#000"},{"offset":0.57,"color":"#000"},{"offset":0.57,"color":"#fff"},{"offset":0.58,"color":"#fff"},
{"offset":0.58,"color":"#000"},{"offset":0.59,"color":"#000"},{"offset":0.59,"color":"#fff"},{"offset":0.6,"color":"#fff"},
{"offset":0.6,"color":"#000"},{"offset":0.61,"color":"#000"},{"offset":0.61,"color":"#fff"},{"offset":0.62,"color":"#fff"},
{"offset":0.62,"color":"#000"},{"offset":0.63,"color":"#000"},{"offset":0.63,"color":"#fff"},{"offset":0.64,"color":"#fff"},
{"offset":0.64,"color":"#000"},{"offset":0.65,"color":"#000"},{"offset":0.65,"color":"#fff"},{"offset":0.66,"color":"#fff"},
{"offset":0.66,"color":"#000"},{"offset":0.67,"color":"#000"},{"offset":0.67,"color":"#fff"},{"offset":0.68,"color":"#fff"},
{"offset":0.68,"color":"#000"},{"offset":0.69,"color":"#000"},{"offset":0.69,"color":"#fff"},{"offset":0.7,"color":"#fff"},
{"offset":0.7,"color":"#000"},{"offset":0.71,"color":"#000"},{"offset":0.71,"color":"#fff"},{"offset":0.72,"color":"#fff"},
{"offset":0.72,"color":"#000"},{"offset":0.73,"color":"#000"},{"offset":0.73,"color":"#fff"},{"offset":0.74,"color":"#fff"},
{"offset":0.74,"color":"#000"},{"offset":0.75,"color":"#000"},{"offset":0.75,"color":"#fff"},{"offset":0.76,"color":"#fff"},
{"offset":0.76,"color":"#000"},{"offset":0.77,"color":"#000"},{"offset":0.77,"color":"#fff"},{"offset":0.78,"color":"#fff"},
{"offset":0.78,"color":"#000"},{"offset":0.79,"color":"#000"},{"offset":0.79,"color":"#fff"},{"offset":1,"color":"#fff"}]}}},
{"transform": [{"filter": "datum.group === 'Herbal mix (W20)'"}], "mark": {"type": "bar", "size": 25.5, "fill": {"gradient": "linear", "x1": 0, "y1": 1, "x2": 0.2419, "y2": -1.1658, "stops": [
{"offset":0,"color":"#fff"},
{"offset":0.0195,"color":"#fff"},{"offset":0.0195,"color":"#000"},{"offset":0.0305,"color":"#000"},{"offset":0.0305,"color":"#fff"},
{"offset":0.0695,"color":"#fff"},{"offset":0.0695,"color":"#000"},{"offset":0.0805,"color":"#000"},{"offset":0.0805,"color":"#fff"},
{"offset":0.1195,"color":"#fff"},{"offset":0.1195,"color":"#000"},{"offset":0.1305,"color":"#000"},{"offset":0.1305,"color":"#fff"},
{"offset":0.1695,"color":"#fff"},{"offset":0.1695,"color":"#000"},{"offset":0.1805,"color":"#000"},{"offset":0.1805,"color":"#fff"},
{"offset":0.2195,"color":"#fff"},{"offset":0.2195,"color":"#000"},{"offset":0.2305,"color":"#000"},{"offset":0.2305,"color":"#fff"},
{"offset":0.2695,"color":"#fff"},{"offset":0.2695,"color":"#000"},{"offset":0.2805,"color":"#000"},{"offset":0.2805,"color":"#fff"},
{"offset":0.3195,"color":"#fff"},{"offset":0.3195,"color":"#000"},{"offset":0.3305,"color":"#000"},{"offset":0.3305,"color":"#fff"},
{"offset":0.3695,"color":"#fff"},{"offset":0.3695,"color":"#000"},{"offset":0.3805,"color":"#000"},{"offset":0.3805,"color":"#fff"},
{"offset":0.4195,"color":"#fff"},{"offset":0.4195,"color":"#000"},{"offset":0.4305,"color":"#000"},{"offset":0.4305,"color":"#fff"},
{"offset":0.4695,"color":"#fff"},{"offset":0.4695,"color":"#000"},{"offset":0.4805,"color":"#000"},{"offset":0.4805,"color":"#fff"},
{"offset":1,"color":"#fff"}]}}},
{"transform": [{"filter": "datum.group === 'Cr (W22)'"}], "mark": {"type": "bar", "size": 25.5, "fill": {"gradient": "linear", "x1": 0, "y1": 0, "x2": 1, "y2": 0, "stops": [
{"offset":0,"color":"#000"},{"offset":0.13,"color":"#000"},{"offset":0.13,"color":"#fff"},{"offset":0.365,"color":"#fff"},{"offset":0.365,"color":"#000"},{"offset":0.59,"color":"#000"},{"offset":0.59,"color":"#fff"},{"offset":0.825,"color":"#fff"},{"offset":0.825,"color":"#000"},{"offset":1,"color":"#000"}]}}},
{"transform": [{"filter": "datum.group === 'HFD (W22)'"}], "mark": {"type": "bar", "size": 25.5, "fill": {"gradient": "linear", "x1": 0, "y1": 0.9976, "x2": 0, "y2": 0.0191, "stops": [
{"offset":0,"color":"#fff"},
{"offset":0.042,"color":"#fff"},{"offset":0.042,"color":"#000"},{"offset":0.058,"color":"#000"},{"offset":0.058,"color":"#fff"},
{"offset":0.092,"color":"#fff"},{"offset":0.092,"color":"#000"},{"offset":0.108,"color":"#000"},{"offset":0.108,"color":"#fff"},
{"offset":0.142,"color":"#fff"},{"offset":0.142,"color":"#000"},{"offset":0.158,"color":"#000"},{"offset":0.158,"color":"#fff"},
{"offset":0.192,"color":"#fff"},{"offset":0.192,"color":"#000"},{"offset":0.208,"color":"#000"},{"offset":0.208,"color":"#fff"},
{"offset":0.242,"color":"#fff"},{"offset":0.242,"color":"#000"},{"offset":0.258,"color":"#000"},{"offset":0.258,"color":"#fff"},
{"offset":0.292,"color":"#fff"},{"offset":0.292,"color":"#000"},{"offset":0.308,"color":"#000"},{"offset":0.308,"color":"#fff"},
{"offset":0.342,"color":"#fff"},{"offset":0.342,"color":"#000"},{"offset":0.358,"color":"#000"},{"offset":0.358,"color":"#fff"},
{"offset":0.392,"color":"#fff"},{"offset":0.392,"color":"#000"},{"offset":0.408,"color":"#000"},{"offset":0.408,"color":"#fff"},
{"offset":0.442,"color":"#fff"},{"offset":0.442,"color":"#000"},{"offset":0.458,"color":"#000"},{"offset":0.458,"color":"#fff"},
{"offset":0.492,"color":"#fff"},{"offset":0.492,"color":"#000"},{"offset":0.508,"color":"#000"},{"offset":0.508,"color":"#fff"},
{"offset":0.542,"color":"#fff"},{"offset":0.542,"color":"#000"},{"offset":0.558,"color":"#000"},{"offset":0.558,"color":"#fff"},
{"offset":0.592,"color":"#fff"},{"offset":0.592,"color":"#000"},{"offset":0.608,"color":"#000"},{"offset":0.608,"color":"#fff"},
{"offset":0.642,"color":"#fff"},{"offset":0.642,"color":"#000"},{"offset":0.658,"color":"#000"},{"offset":0.658,"color":"#fff"},
{"offset":0.692,"color":"#fff"},{"offset":0.692,"color":"#000"},{"offset":0.708,"color":"#000"},{"offset":0.708,"color":"#fff"},
{"offset":0.742,"color":"#fff"},{"offset":0.742,"color":"#000"},{"offset":0.758,"color":"#000"},{"offset":0.758,"color":"#fff"},
{"offset":0.792,"color":"#fff"},{"offset":0.792,"color":"#000"},{"offset":0.808,"color":"#000"},{"offset":0.808,"color":"#fff"},
{"offset":0.842,"color":"#fff"},{"offset":0.842,"color":"#000"},{"offset":0.858,"color":"#000"},{"offset":0.858,"color":"#fff"},
{"offset":0.892,"color":"#fff"},{"offset":0.892,"color":"#000"},{"offset":0.908,"color":"#000"},{"offset":0.908,"color":"#fff"},
{"offset":0.942,"color":"#fff"},{"offset":0.942,"color":"#000"},{"offset":0.958,"color":"#000"},{"offset":0.958,"color":"#fff"},
{"offset":1,"color":"#fff"}]}}},
{"transform": [{"filter": "datum.group === 'Orlistat (W22)'"}], "mark": {"type": "bar", "size": 25.5, "fill": {"gradient": "linear", "x1": 0, "y1": 0, "x2": 1, "y2": 0, "stops": [
{"offset":0,"color":"#000"},{"offset":0.167,"color":"#000"},{"offset":0.167,"color":"#fff"},{"offset":0.404,"color":"#fff"},{"offset":0.404,"color":"#000"},{"offset":0.6,"color":"#000"},{"offset":0.6,"color":"#fff"},{"offset":0.833,"color":"#fff"},{"offset":0.833,"color":"#000"},{"offset":1,"color":"#000"}]}}},
{"transform": [{"filter": "datum.group === 'Orlistat (W22)'"}], "mark": {"type": "bar", "size": 25.5, "fill": {"gradient": "linear", "x1": 0, "y1": 0.9968, "x2": 0, "y2": -0.2883, "stops": [
{"offset":0,"color":"rgba(0,0,0,0)"},
{"offset":0.043,"color":"rgba(0,0,0,0)"},{"offset":0.043,"color":"#000"},{"offset":0.057,"color":"#000"},{"offset":0.057,"color":"rgba(0,0,0,0)"},
{"offset":0.093,"color":"rgba(0,0,0,0)"},{"offset":0.093,"color":"#000"},{"offset":0.107,"color":"#000"},{"offset":0.107,"color":"rgba(0,0,0,0)"},
{"offset":0.143,"color":"rgba(0,0,0,0)"},{"offset":0.143,"color":"#000"},{"offset":0.157,"color":"#000"},{"offset":0.157,"color":"rgba(0,0,0,0)"},
{"offset":0.193,"color":"rgba(0,0,0,0)"},{"offset":0.193,"color":"#000"},{"offset":0.207,"color":"#000"},{"offset":0.207,"color":"rgba(0,0,0,0)"},
{"offset":0.243,"color":"rgba(0,0,0,0)"},{"offset":0.243,"color":"#000"},{"offset":0.257,"color":"#000"},{"offset":0.257,"color":"rgba(0,0,0,0)"},
{"offset":0.293,"color":"rgba(0,0,0,0)"},{"offset":0.293,"color":"#000"},{"offset":0.307,"color":"#000"},{"offset":0.307,"color":"rgba(0,0,0,0)"},
{"offset":0.343,"color":"rgba(0,0,0,0)"},{"offset":0.343,"color":"#000"},{"offset":0.357,"color":"#000"},{"offset":0.357,"color":"rgba(0,0,0,0)"},
{"offset":0.393,"color":"rgba(0,0,0,0)"},{"offset":0.393,"color":"#000"},{"offset":0.407,"color":"#000"},{"offset":0.407,"color":"rgba(0,0,0,0)"},
{"offset":0.443,"color":"rgba(0,0,0,0)"},{"offset":0.443,"color":"#000"},{"offset":0.457,"color":"#000"},{"offset":0.457,"color":"rgba(0,0,0,0)"},
{"offset":0.493,"color":"rgba(0,0,0,0)"},{"offset":0.493,"color":"#000"},{"offset":0.507,"color":"#000"},{"offset":0.507,"color":"rgba(0,0,0,0)"},
{"offset":0.543,"color":"rgba(0,0,0,0)"},{"offset":0.543,"color":"#000"},{"offset":0.557,"color":"#000"},{"offset":0.557,"color":"rgba(0,0,0,0)"},
{"offset":0.593,"color":"rgba(0,0,0,0)"},{"offset":0.593,"color":"#000"},{"offset":0.607,"color":"#000"},{"offset":0.607,"color":"rgba(0,0,0,0)"},
{"offset":0.643,"color":"rgba(0,0,0,0)"},{"offset":0.643,"color":"#000"},{"offset":0.657,"color":"#000"},{"offset":0.657,"color":"rgba(0,0,0,0)"},
{"offset":0.693,"color":"rgba(0,0,0,0)"},{"offset":0.693,"color":"#000"},{"offset":0.707,"color":"#000"},{"offset":0.707,"color":"rgba(0,0,0,0)"},
{"offset":0.743,"color":"rgba(0,0,0,0)"},{"offset":0.743,"color":"#000"},{"offset":0.757,"color":"#000"},{"offset":0.757,"color":"rgba(0,0,0,0)"},
{"offset":1,"color":"rgba(0,0,0,0)"}]}}},
{"transform": [{"filter": "datum.group === 'Herbal mix (W22)'"}], "mark": {"type": "bar", "size": 25.5, "fill": {"gradient": "linear", "x1": 0, "y1": 1, "x2": 0.1512, "y2": -0.2796, "stops": [
{"offset":0,"color":"#000"},{"offset":0.009,"color":"#000"},{"offset":0.009,"color":"#fff"},
{"offset":0.041,"color":"#fff"},{"offset":0.041,"color":"#000"},{"offset":0.059,"color":"#000"},{"offset":0.059,"color":"#fff"},
{"offset":0.091,"color":"#fff"},{"offset":0.091,"color":"#000"},{"offset":0.109,"color":"#000"},{"offset":0.109,"color":"#fff"},
{"offset":0.141,"color":"#fff"},{"offset":0.141,"color":"#000"},{"offset":0.159,"color":"#000"},{"offset":0.159,"color":"#fff"},
{"offset":0.191,"color":"#fff"},{"offset":0.191,"color":"#000"},{"offset":0.209,"color":"#000"},{"offset":0.209,"color":"#fff"},
{"offset":0.241,"color":"#fff"},{"offset":0.241,"color":"#000"},{"offset":0.259,"color":"#000"},{"offset":0.259,"color":"#fff"},
{"offset":0.291,"color":"#fff"},{"offset":0.291,"color":"#000"},{"offset":0.309,"color":"#000"},{"offset":0.309,"color":"#fff"},
{"offset":0.341,"color":"#fff"},{"offset":0.341,"color":"#000"},{"offset":0.359,"color":"#000"},{"offset":0.359,"color":"#fff"},
{"offset":0.391,"color":"#fff"},{"offset":0.391,"color":"#000"},{"offset":0.409,"color":"#000"},{"offset":0.409,"color":"#fff"},
{"offset":0.441,"color":"#fff"},{"offset":0.441,"color":"#000"},{"offset":0.459,"color":"#000"},{"offset":0.459,"color":"#fff"},
{"offset":0.491,"color":"#fff"},{"offset":0.491,"color":"#000"},{"offset":0.509,"color":"#000"},{"offset":0.509,"color":"#fff"},
{"offset":0.541,"color":"#fff"},{"offset":0.541,"color":"#000"},{"offset":0.559,"color":"#000"},{"offset":0.559,"color":"#fff"},
{"offset":0.591,"color":"#fff"},{"offset":0.591,"color":"#000"},{"offset":0.609,"color":"#000"},{"offset":0.609,"color":"#fff"},
{"offset":0.641,"color":"#fff"},{"offset":0.641,"color":"#000"},{"offset":0.659,"color":"#000"},{"offset":0.659,"color":"#fff"},
{"offset":0.691,"color":"#fff"},{"offset":0.691,"color":"#000"},{"offset":0.709,"color":"#000"},{"offset":0.709,"color":"#fff"},
{"offset":0.741,"color":"#fff"},{"offset":0.741,"color":"#000"},{"offset":0.759,"color":"#000"},{"offset":0.759,"color":"#fff"},
{"offset":0.791,"color":"#fff"},{"offset":0.791,"color":"#000"},{"offset":0.809,"color":"#000"},{"offset":0.809,"color":"#fff"},
{"offset":0.841,"color":"#fff"},{"offset":0.841,"color":"#000"},{"offset":0.859,"color":"#000"},{"offset":0.859,"color":"#fff"},
{"offset":1,"color":"#fff"}]}}},
{"transform": [{"filter": "datum.group === 'Herbal mix (W22)'"}], "mark": {"type": "bar", "size": 25.5, "fill": {"gradient": "linear", "x1": 0, "y1": 0, "x2": 0.1512, "y2": 1.2796, "stops": [
{"offset":0,"color":"#000"},{"offset":0.009,"color":"#000"},{"offset":0.009,"color":"rgba(0,0,0,0)"},
{"offset":0.041,"color":"rgba(0,0,0,0)"},{"offset":0.041,"color":"#000"},{"offset":0.059,"color":"#000"},{"offset":0.059,"color":"rgba(0,0,0,0)"},
{"offset":0.091,"color":"rgba(0,0,0,0)"},{"offset":0.091,"color":"#000"},{"offset":0.109,"color":"#000"},{"offset":0.109,"color":"rgba(0,0,0,0)"},
{"offset":0.141,"color":"rgba(0,0,0,0)"},{"offset":0.141,"color":"#000"},{"offset":0.159,"color":"#000"},{"offset":0.159,"color":"rgba(0,0,0,0)"},
{"offset":0.191,"color":"rgba(0,0,0,0)"},{"offset":0.191,"color":"#000"},{"offset":0.209,"color":"#000"},{"offset":0.209,"color":"rgba(0,0,0,0)"},
{"offset":0.241,"color":"rgba(0,0,0,0)"},{"offset":0.241,"color":"#000"},{"offset":0.259,"color":"#000"},{"offset":0.259,"color":"rgba(0,0,0,0)"},
{"offset":0.291,"color":"rgba(0,0,0,0)"},{"offset":0.291,"color":"#000"},{"offset":0.309,"color":"#000"},{"offset":0.309,"color":"rgba(0,0,0,0)"},
{"offset":0.341,"color":"rgba(0,0,0,0)"},{"offset":0.341,"color":"#000"},{"offset":0.359,"color":"#000"},{"offset":0.359,"color":"rgba(0,0,0,0)"},
{"offset":0.391,"color":"rgba(0,0,0,0)"},{"offset":0.391,"color":"#000"},{"offset":0.409,"color":"#000"},{"offset":0.409,"color":"rgba(0,0,0,0)"},
{"offset":0.441,"color":"rgba(0,0,0,0)"},{"offset":0.441,"color":"#000"},{"offset":0.459,"color":"#000"},{"offset":0.459,"color":"rgba(0,0,0,0)"},
{"offset":0.491,"color":"rgba(0,0,0,0)"},{"offset":0.491,"color":"#000"},{"offset":0.509,"color":"#000"},{"offset":0.509,"color":"rgba(0,0,0,0)"},
{"offset":0.541,"color":"rgba(0,0,0,0)"},{"offset":0.541,"color":"#000"},{"offset":0.559,"color":"#000"},{"offset":0.559,"color":"rgba(0,0,0,0)"},
{"offset":0.591,"color":"rgba(0,0,0,0)"},{"offset":0.591,"color":"#000"},{"offset":0.609,"color":"#000"},{"offset":0.609,"color":"rgba(0,0,0,0)"},
{"offset":0.641,"color":"rgba(0,0,0,0)"},{"offset":0.641,"color":"#000"},{"offset":0.659,"color":"#000"},{"offset":0.659,"color":"rgba(0,0,0,0)"},
{"offset":0.691,"color":"rgba(0,0,0,0)"},{"offset":0.691,"color":"#000"},{"offset":0.709,"color":"#000"},{"offset":0.709,"color":"rgba(0,0,0,0)"},
{"offset":0.741,"color":"rgba(0,0,0,0)"},{"offset":0.741,"color":"#000"},{"offset":0.759,"color":"#000"},{"offset":0.759,"color":"rgba(0,0,0,0)"},
{"offset":0.791,"color":"rgba(0,0,0,0)"},{"offset":0.791,"color":"#000"},{"offset":0.809,"color":"#000"},{"offset":0.809,"color":"rgba(0,0,0,0)"},
{"offset":0.841,"color":"rgba(0,0,0,0)"},{"offset":0.841,"color":"#000"},{"offset":0.859,"color":"#000"},{"offset":0.859,"color":"rgba(0,0,0,0)"},
{"offset":1,"color":"rgba(0,0,0,0)"}]}}},
{"mark": {"type": "bar", "size": 25.5, "fill": "transparent", "stroke": "#000", "strokeWidth": 3.5}},
{"transform": [{"filter": "datum.sig === '+++'"}], "mark": {"type": "text", "font": "Liberation Sans", "fontSize": 22, "baseline": "alphabetic", "align": "center", "dy": -20, "dx": 1, "color": "#000"}, "encoding": {"text": {"field": "sig"}}},
{"transform": [{"filter": "datum.sig === '***'"}], "mark": {"type": "text", "font": "Liberation Sans", "fontSize": 30, "baseline": "alphabetic", "align": "center", "dy": -5, "dx": 5, "color": "#000"}, "encoding": {"text": {"field": "sig"}}}
]
}
